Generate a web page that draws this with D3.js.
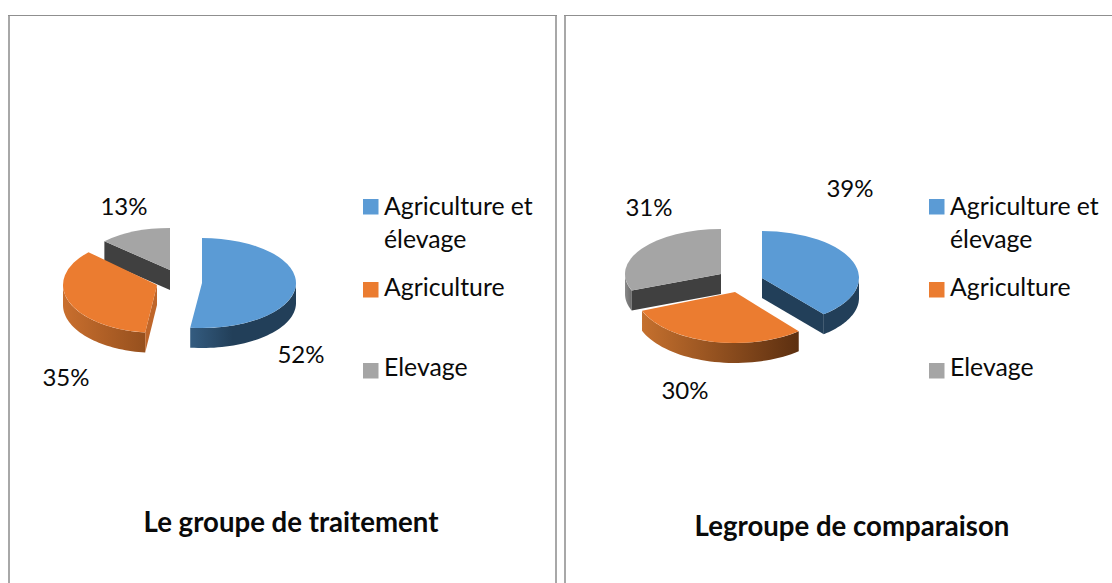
<!DOCTYPE html>
<html><head><meta charset="utf-8">
<script src="https://cdn.jsdelivr.net/npm/d3@7"></script>
<style>html,body{margin:0;padding:0;background:#fff;overflow:hidden}text{font-family:Lato,sans-serif;fill:#0a0a0a}</style>
</head><body><svg id="c" width="1112" height="583"></svg>
<script>
const categories = ["Agriculture et élevage", "Agriculture", "Elevage"];
const legendLines = [["Agriculture et", "élevage"], ["Agriculture"], ["Elevage"]];
const titles = ["Le groupe de traitement", "Legroupe de comparaison"];
const treatmentValues = [52, 35, 13];
const comparisonValues = [39, 30, 31];
const percentLabels = [["52%", "35%", "13%"], ["39%", "30%", "31%"]];

const topColors = ["#5b9bd5", "#eb7c30", "#a5a5a5"];
const wallColors = ["#223f59", "#bf662a", "#404040"];
const layout = [
  { frame: [8, 555], legendX: 363, title: [291, 532],
    values: treatmentValues,
    slices: [{c:[202,283],r:[94,45]},{c:[157,285],r:[94,48]},{c:[170,270],r:[90,42]}],
    rims: [["#345c80","#223f59"],["#c96f2e","#96501e"],["#808080","#808080"]],
    rimStop: [0.4,1,1],
    labels: [[301,363],[66,386],[124,215]], order:[2,1,0] },
  { frame: [564, 1200], legendX: 929, title: [852, 536],
    values: comparisonValues,
    slices: [{c:[762,278],r:[97,47]},{c:[735,292],r:[100,51]},{c:[721,274],r:[96,45]}],
    rims: [["#223f59","#223f59"],["#c5702e","#5c2f10"],["#8a8a8a","#6a6a6a"]],
    rimStop: [1,1,1],
    labels: [[850,197],[685,399],[649,216]], order:[2,0,1] }
];
const depth = 20, labelSize = 24, legendSize = 24.8, titleSize = 27.6;
const legendY = [[199,214.5,247.5],[282,295.5],[363,375.5]];

const svg = d3.select("#c");
const defs = svg.append("defs");
const pie = d3.pie().sort(null).value(d => d);
const arc = d3.arc().innerRadius(0);

layout.forEach((L, li) => {
  const g = svg.append("g");
  L.frame.forEach(x => g.append("rect").attr("x",x).attr("y",15).attr("width",2).attr("height",568).attr("fill","#a8a8a8"));
  g.append("rect").attr("x",L.frame[0]).attr("y",15).attr("width",L.frame[1]-L.frame[0]+2).attr("height",1).attr("fill","#8f8f8f");
  const arcs = pie(L.values);
  L.order.forEach(i => {
    const a = arcs[i], s = L.slices[i];
    const sx = d3.scaleLinear().domain([-1,1]).range([s.c[0]-s.r[0], s.c[0]+s.r[0]]);
    const sy = d3.scaleLinear().domain([-1,1]).range([s.c[1]-s.r[1], s.c[1]+s.r[1]]);
    const rimPt = (t, dy=0) => [sx(Math.sin(t)), sy(-Math.cos(t)) + dy];
    const lo = Math.max(a.startAngle, Math.PI/2), hi = Math.min(a.endAngle, 3*Math.PI/2);
    if (hi > lo) {
      const gid = `rim${li}${i}`;
      const lg = defs.append("linearGradient").attr("id",gid).attr("gradientUnits","userSpaceOnUse")
        .attr("x1",Math.min(rimPt(lo)[0],rimPt(hi)[0])).attr("x2",Math.max(rimPt(lo)[0],rimPt(hi)[0])).attr("y1",0).attr("y2",0);
      lg.append("stop").attr("offset",0).attr("stop-color",L.rims[i][0]);
      lg.append("stop").attr("offset",L.rimStop[i]).attr("stop-color",L.rims[i][1]);
      const ts = d3.range(41).map(k => lo + (hi-lo)*k/40);
      const pts = ts.map(t => rimPt(t)).concat(ts.slice().reverse().map(t => rimPt(t, depth)));
      g.append("path").attr("d", d3.line()(pts)+"Z").attr("fill",`url(#${gid})`);
    }
    const wall = t => [[s.c[0],s.c[1]], rimPt(t), rimPt(t,depth), [s.c[0],s.c[1]+depth]];
    if (Math.sin(a.startAngle) < -1e-6) g.append("path").attr("d", d3.line()(wall(a.startAngle))+"Z").attr("fill",wallColors[i]);
    if (Math.sin(a.endAngle) > 1e-6) g.append("path").attr("d", d3.line()(wall(a.endAngle))+"Z").attr("fill",wallColors[i]);
    g.append("path")
      .attr("d", arc.outerRadius(s.r[0])(a))
      .attr("transform", `translate(${s.c[0]},${s.c[1]}) scale(1,${s.r[1]/s.r[0]})`)
      .attr("fill", topColors[i]);
    g.append("text").attr("x",L.labels[i][0]).attr("y",L.labels[i][1]).attr("text-anchor","middle")
      .attr("font-size",labelSize).text(percentLabels[li][i]);
  });
  categories.forEach((c,i) => {
    g.append("rect").attr("x",L.legendX).attr("y",legendY[i][0]).attr("width",15.5).attr("height",15.5).attr("fill",topColors[i]);
    legendLines[i].forEach((t,k) => g.append("text").attr("x",L.legendX+21).attr("y",legendY[i][k+1]).attr("font-size",legendSize).text(t));
  });
  g.append("text").attr("x",L.title[0]).attr("y",L.title[1]).attr("text-anchor","middle").attr("font-weight",700).attr("font-size",titleSize).text(titles[li]);
});
</script></body></html>
